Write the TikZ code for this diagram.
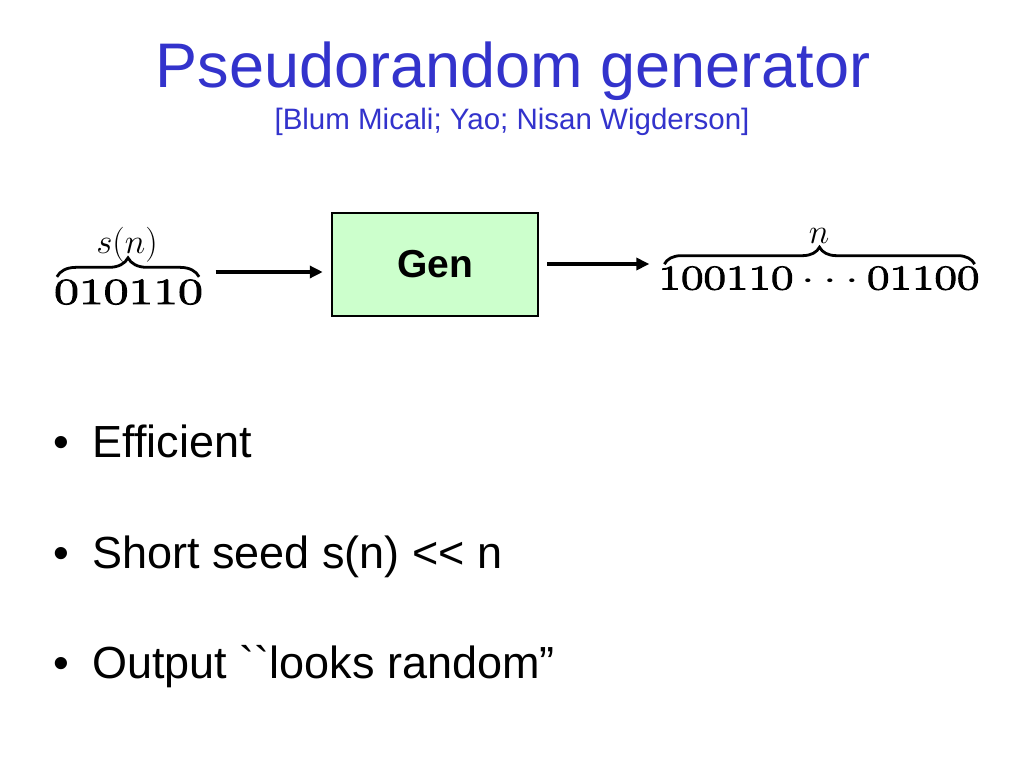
\RequirePackage{fix-cm}
\documentclass[tikz,border=0pt]{standalone}
\usepackage{amsmath}
\usepackage[no-math]{fontspec}
\newfontfamily\hv{Liberation Sans}
\newfontfamily\lmr[FakeBold=2.5]{Latin Modern Roman}
\usetikzlibrary{arrows.meta,decorations.pathreplacing}
\definecolor{titleblue}{RGB}{51,51,204}
\definecolor{genfill}{RGB}{204,255,204}
\tikzset{
  titletext/.style={text=titleblue, inner sep=0pt, anchor=base, font=\hv\fontsize{63}{70}\selectfont},
  subtext/.style={text=titleblue, inner sep=0pt, anchor=base, font=\hv\fontsize{29.5}{34}\selectfont},
  bullettext/.style={inner sep=0pt, anchor=base west, font=\hv\fontsize{45}{52}\selectfont},
  genbox/.style={draw=black, line width=2.5pt, fill=genfill, minimum width=206pt, minimum height=103pt, inner sep=0pt, font=\hv\bfseries\fontsize{39}{46}\selectfont},
  bits/.style={inner sep=0pt, anchor=base},
  bracelabel/.style={inner sep=0pt, anchor=base, font=\fontsize{35}{42}\selectfont},
  bracedeco/.style={line width=2.8pt, decorate, decoration={brace, amplitude=#1}},
  arr/.style={line width=3.5pt, -{Triangle[length=13pt,width=12pt]}}
}
\begin{document}
\begin{tikzpicture}[x=1pt,y=-1pt]
\useasboundingbox[fill=white] (0,0) rectangle (1024,768);
% title
\node[titletext] (title) at (513,87) {Pseudorandom generator};
\node[subtext] (sub) at (512,129) {[Blum Micali; Yao; Nisan Wigderson]};
% diagram
\node[genbox] (gen) at (435,264.5) {\raisebox{-1.5pt}{Gen}};
\node[bits] (seed) at (128.5,304) {\fontsize{37}{44}\selectfont\scalebox{1.46}[1]{\lmr 010110}};
\node[bits] (out) at (819,289.5) {\fontsize{35}{42}\selectfont\scalebox{1.40}[1]{\lmr 100110$\,\cdots\,$01100}};
\draw[bracedeco=19pt] ([xshift=3pt,yshift=2.5pt]seed.north west) -- ([xshift=-4pt,yshift=2.5pt]seed.north east);
\draw[bracedeco=17pt] ([xshift=6pt,yshift=2pt]out.north west) -- ([xshift=-5pt,yshift=2pt]out.north east);
\node[bracelabel] (seedlab) at (127,253.5) {$s(n)$};
\node[bracelabel] (outlab) at (819,243) {$n$};
\draw[arr, shorten <=12.5pt, shorten >=8pt] (seed.east |- 0,272) -- (gen.west |- 0,272);
\draw[arr, shorten <=8pt, shorten >=9pt] (gen.east |- 0,264) -- (out.west |- 0,264);
% bullets
\node[bullettext] (b1) at (53,457) {\textbullet};
\node[bullettext] (t1) at (92.5,457) {Efficient};
\node[bullettext] (b2) at (53,568) {\textbullet};
\node[bullettext] (t2) at (92,568) {Short seed s(n) {<}{<} n};
\node[bullettext] (b3) at (53,678) {\textbullet};
\node[bullettext] (t3) at (92,678) {Output \char96\char96 looks random\char"201D};
\end{tikzpicture}
\end{document}
